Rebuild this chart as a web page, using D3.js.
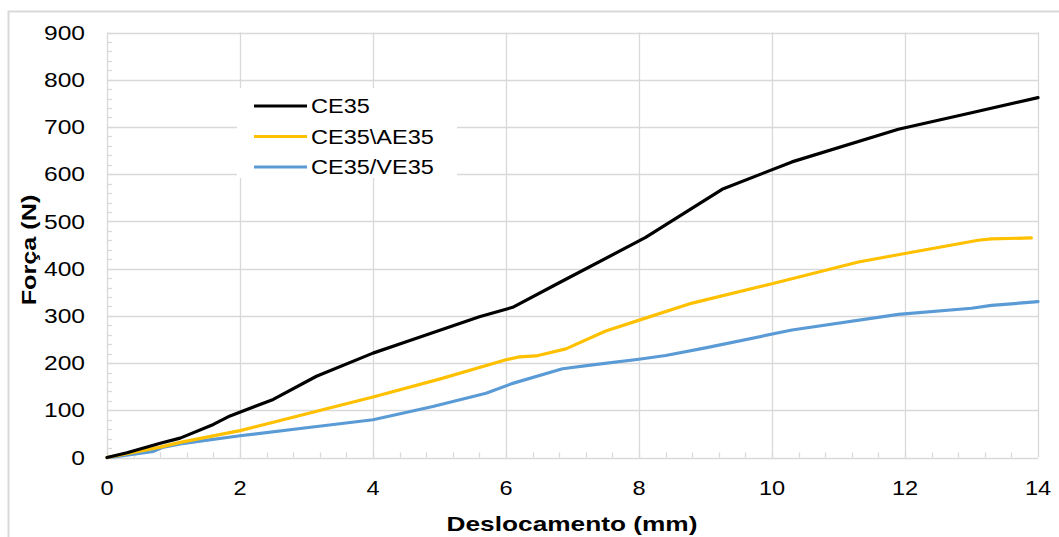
<!DOCTYPE html>
<html>
<head>
<meta charset="utf-8">
<script src="https://cdn.jsdelivr.net/npm/d3@7"></script>
<style>
  html, body { margin: 0; padding: 0; background: #ffffff; }
  svg { display: block; }
  text { font-family: "Liberation Sans", Arial, sans-serif; fill: #000; }
</style>
</head>
<body>
<svg id="chart" width="1059" height="537"></svg>
<script>
// ---- Data ----
const seriesNames = ["CE35", "CE35\\AE35", "CE35/VE35"];
const seriesColors = ["#000000", "#FFC000", "#5B9BD5"];

const ce35_x = [0, 0.3, 0.8, 1.1, 1.6, 1.85, 2.5, 3.15, 4.0, 4.5, 5.6, 6.1, 6.8, 8.1, 9.25, 10.3, 11.9, 13.0, 14.0];
const ce35_y = [0, 10, 30, 41, 70, 88, 123, 172, 221, 245, 298, 318, 370, 466, 568, 626, 695, 730, 762];

const ae35_x = [0, 0.3, 0.8, 1.1, 2.0, 4.0, 5.0, 6.0, 6.2, 6.45, 6.9, 7.5, 8.05, 8.8, 10.0, 11.3, 12.0, 13.1, 13.3, 13.9];
const ae35_y = [0, 8, 22, 32, 57, 128, 166, 207, 213, 215, 230, 268, 293, 327, 368, 414, 432, 460, 463, 465];

const ve35_x = [0, 0.1, 0.7, 0.85, 1.1, 2.0, 3.0, 4.0, 4.9, 5.7, 6.1, 6.85, 7.3, 8.0, 8.4, 9.0, 10.3, 11.9, 13.0, 13.3, 14.0];
const ve35_y = [0, 1, 13, 22, 29, 46, 63, 80, 108, 136, 157, 188, 196, 208, 216, 232, 270, 303, 316, 322, 330];

const xTicks = [0, 2, 4, 6, 8, 10, 12, 14];
const yTicks = [0, 100, 200, 300, 400, 500, 600, 700, 800, 900];
const xTitle = "Deslocamento (mm)";
const yTitle = "Força (N)";

// ---- Layout ----
const svg = d3.select("#chart");
const plot = { left: 107, right: 1038, top: 32.5, bottom: 457.5 };
const x = d3.scaleLinear().domain([0, 14]).range([plot.left, plot.right]);
const y = d3.scaleLinear().domain([0, 900]).range([plot.bottom, plot.top]);
const gridColor = "#d9d9d9";

// outer chart border
svg.append("rect").attr("x", 8.5).attr("y", 11.5).attr("width", 1070).attr("height", 540)
  .attr("fill", "#fff").attr("stroke", "#d9d9d9").attr("stroke-width", 2);

// gridlines
const g = svg.append("g");
g.selectAll(".hg").data(yTicks).enter().append("line")
  .attr("x1", plot.left).attr("x2", plot.right)
  .attr("y1", d => Math.round(y(d)) + 0.5).attr("y2", d => Math.round(y(d)) + 0.5)
  .attr("stroke", gridColor).attr("stroke-width", 1.3);
g.selectAll(".vg").data(xTicks).enter().append("line")
  .attr("y1", plot.top).attr("y2", plot.bottom)
  .attr("x1", d => Math.round(x(d)) + 0.5).attr("x2", d => Math.round(x(d)) + 0.5)
  .attr("stroke", gridColor).attr("stroke-width", 1.3);

// minor ticks
const yMinor = d3.range(0, 901, 20);
g.selectAll(".ym").data(yMinor).enter().append("line")
  .attr("x1", plot.left).attr("x2", plot.left + 5)
  .attr("y1", d => Math.round(y(d)) + 0.5).attr("y2", d => Math.round(y(d)) + 0.5)
  .attr("stroke", gridColor).attr("stroke-width", 1.3);
const xMinor = d3.range(0, 35).map(i => i * 0.4);
g.selectAll(".xm").data(xMinor).enter().append("line")
  .attr("y1", plot.bottom).attr("y2", plot.bottom - 5)
  .attr("x1", d => Math.round(x(d)) + 0.5).attr("x2", d => Math.round(x(d)) + 0.5)
  .attr("stroke", gridColor).attr("stroke-width", 1.3);

// tick labels
function stretchedText(sel, tx, ty, anchor, size, weight, stretch) {
  sel.attr("transform", `translate(${tx},${ty}) scale(${stretch},1)`)
    .attr("text-anchor", anchor).style("font-size", size + "px")
    .style("font-weight", weight || "normal");
}
yTicks.forEach(v => {
  const t = svg.append("text").text(v).attr("dy", "0.35em");
  stretchedText(t, 85, y(v), "end", 20.5, "normal", 1.2);
});
xTicks.forEach(v => {
  const t = svg.append("text").text(v);
  stretchedText(t, x(v), 494.5, "middle", 20.5, "normal", 1.15);
});

// axis titles
const xt = svg.append("text").text(xTitle);
stretchedText(xt, 572, 531, "middle", 21, "bold", 1.25);
const yt = svg.append("text").text(yTitle)
  .attr("transform", `translate(36,250) rotate(-90) scale(1.2,1)`)
  .attr("text-anchor", "middle").style("font-size", "21px").style("font-weight", "bold");

// lines
const line = d3.line().x(d => x(d[0])).y(d => y(d[1]));
const series = [
  d3.zip(ce35_x, ce35_y),
  d3.zip(ae35_x, ae35_y),
  d3.zip(ve35_x, ve35_y)
];
// draw order: blue, yellow, black
[2, 1, 0].forEach(i => {
  svg.append("path").datum(series[i]).attr("d", line)
    .attr("fill", "none").attr("stroke", seriesColors[i])
    .attr("stroke-width", 3.2).attr("stroke-linejoin", "round").attr("stroke-linecap", "round");
});

// legend
const leg = svg.append("g");
leg.append("rect").attr("x", 237).attr("y", 88).attr("width", 220).attr("height", 90).attr("fill", "#fff");
seriesNames.forEach((name, i) => {
  const ly = 106 + i * 30.5;
  leg.append("line").attr("x1", 254).attr("x2", 307).attr("y1", ly).attr("y2", ly)
    .attr("stroke", seriesColors[i]).attr("stroke-width", 3.2);
  const t = leg.append("text").text(name).attr("dy", "0.35em");
  stretchedText(t, 311, ly, "start", 21, "normal", 1.12);
});
</script>
</body>
</html>
